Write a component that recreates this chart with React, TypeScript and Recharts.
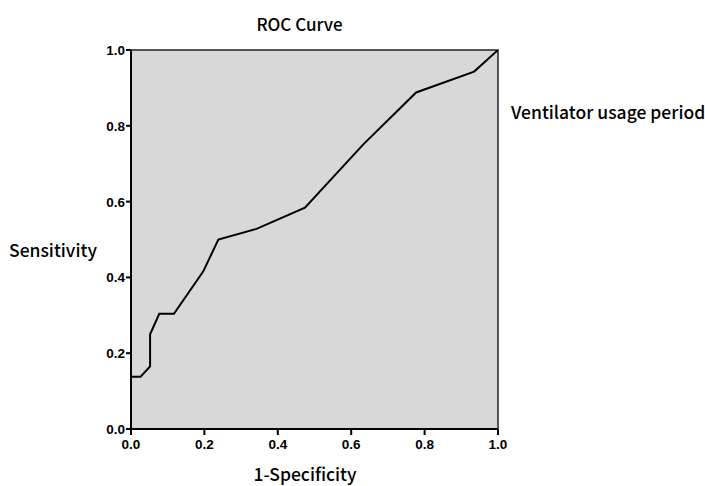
import React from "react";
import { LineChart, Line, XAxis, YAxis, ReferenceArea } from "recharts";

const fpr = [0, 0, 0.026, 0.052, 0.052, 0.077, 0.117, 0.197, 0.238, 0.342, 0.474, 0.633, 0.777, 0.935, 1.0];
const tpr = [0, 0.138, 0.138, 0.165, 0.25, 0.304, 0.304, 0.416, 0.5, 0.528, 0.584, 0.751, 0.888, 0.943, 1.0];
const ticks = [0, 0.2, 0.4, 0.6, 0.8, 1.0];
const title = "ROC Curve";
const xLabel = "1-Specificity";
const yLabel = "Sensitivity";
const seriesName = "Ventilator usage period";

const data = fpr.map((x, i) => ({ x, y: tpr[i] }));

const labelFont = "'Noto Sans CJK JP', 'Noto Sans', sans-serif";
const tickFont = "'Liberation Sans', Arial, sans-serif";

const XTick = (props: any) => {
  const { x, y, payload } = props;
  return (
    <text x={x} y={y + 12} textAnchor="middle" fontFamily={tickFont} fontWeight={700} fontSize={13.5} fill="#000">
      {Number(payload.value).toFixed(1)}
    </text>
  );
};

const YTick = (props: any) => {
  const { x, y, payload } = props;
  return (
    <text x={x} y={y + 5} textAnchor="end" fontFamily={tickFont} fontWeight={700} fontSize={13.5} fill="#000">
      {Number(payload.value).toFixed(1)}
    </text>
  );
};

export default function App() {
  return (
    <div style={{ position: "absolute", left: 0, top: 0, width: 705, height: 486, background: "#fff", overflow: "hidden" }}>
      <LineChart width={705} height={486} data={data} margin={{ top: 50, right: 207, bottom: 27, left: 91 }}>
        <XAxis
          dataKey="x"
          type="number"
          domain={[0, 1]}
          ticks={ticks}
          tick={<XTick />}
          axisLine={{ stroke: "#000", strokeWidth: 2 }}
          tickLine={{ stroke: "#000", strokeWidth: 2 }}
          tickSize={6}
          height={30}
          allowDataOverflow
        />
        <YAxis
          dataKey="y"
          type="number"
          domain={[0, 1]}
          ticks={ticks}
          tick={<YTick />}
          axisLine={{ stroke: "#000", strokeWidth: 2 }}
          tickLine={{ stroke: "#000", strokeWidth: 2 }}
          tickSize={5}
          tickMargin={1}
          width={40}
          allowDataOverflow
        />
        <ReferenceArea x1={0} x2={1} y1={0} y2={1} fill="#d8d8d8" fillOpacity={1} stroke="#222" strokeWidth={1.5} ifOverflow="visible" />
        <Line
          type="linear"
          dataKey="y"
          stroke="#000"
          strokeWidth={2}
          dot={false}
          isAnimationActive={false}
        />
      </LineChart>
      <div style={{ position: "absolute", left: 0, width: 599, top: 14, textAlign: "center", fontFamily: labelFont, fontSize: 17, fontWeight: 500, color: "#000", lineHeight: "20px" }}>{title}</div>
      <div style={{ position: "absolute", left: 9, top: 239, fontFamily: labelFont, fontSize: 17.5, fontWeight: 500, color: "#000", lineHeight: "22px", whiteSpace: "nowrap" }}>{yLabel}</div>
      <div style={{ position: "absolute", left: 0, width: 610, top: 465, textAlign: "center", fontFamily: labelFont, fontSize: 17.5, fontWeight: 500, color: "#000", lineHeight: "18px" }}>{xLabel}</div>
      <div style={{ position: "absolute", left: 511, top: 101, fontFamily: labelFont, fontSize: 17.5, fontWeight: 500, color: "#000", lineHeight: "22px", whiteSpace: "nowrap" }}>{seriesName}</div>
    </div>
  );
}
